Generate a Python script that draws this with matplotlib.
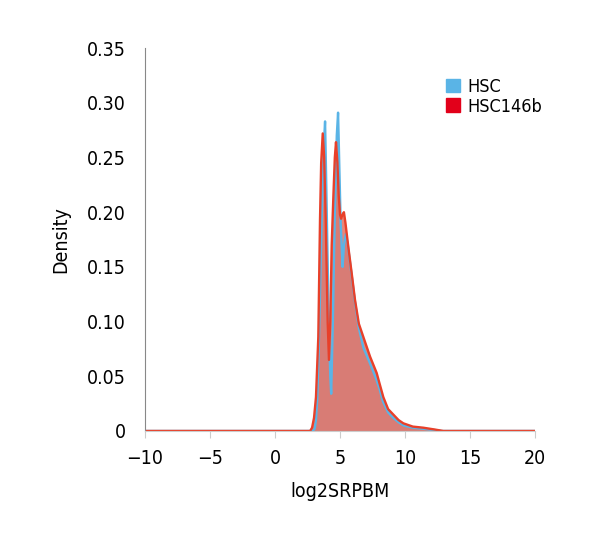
import numpy as np
import matplotlib.pyplot as plt
from matplotlib.patches import Patch

plt.rcParams['font.family'] = ['DejaVu Sans']
plt.rcParams['font.stretch'] = 'condensed'

# density curves
hsc_x = [-10, 2.9, 3.05, 3.15, 3.25, 3.35, 3.45, 3.6, 3.75, 3.85, 3.95, 4.1, 4.25,
         4.32, 4.45, 4.6, 4.75, 4.85, 4.95, 5.05, 5.13, 5.2, 5.3, 5.45, 5.6, 5.9,
         6.15, 6.45, 6.8, 7.3, 7.8, 8.05, 8.3, 8.7, 9.1, 9.5, 9.9, 10.6, 11.4,
         12.2, 12.8, 20]
hsc_y = [0, 0, 0.002, 0.01, 0.03, 0.07, 0.12, 0.2, 0.26, 0.283, 0.22, 0.12, 0.05,
         0.034, 0.1, 0.2, 0.27, 0.291, 0.24, 0.19, 0.168, 0.15, 0.17, 0.18, 0.17, 0.142,
         0.118, 0.094, 0.076, 0.062, 0.047, 0.038, 0.027, 0.017, 0.012, 0.008, 0.005,
         0.003, 0.002, 0.001, 0, 0]

hsc146b_x = [-10, 2.7, 2.85, 3.0, 3.15, 3.33, 3.46, 3.55, 3.67, 3.78, 3.9, 3.97,
             4.05, 4.15, 4.25, 4.36, 4.49, 4.6, 4.69, 4.8, 4.9, 5.0, 5.08, 5.2, 5.3,
             5.42, 5.52, 5.64, 5.9, 6.15, 6.45, 6.85, 7.31, 7.82, 8.05, 8.33, 8.7,
             9.1, 9.5, 9.87, 10.6, 11.4, 12.2, 12.95, 20]
hsc146b_y = [0, 0, 0.003, 0.012, 0.031, 0.086, 0.193, 0.245, 0.272, 0.25, 0.193, 0.15,
             0.1, 0.065, 0.1, 0.17, 0.215, 0.25, 0.264, 0.245, 0.215, 0.198, 0.194, 0.198, 0.2,
             0.19, 0.18, 0.168, 0.144, 0.12, 0.098, 0.084, 0.068, 0.053, 0.043, 0.031, 0.02,
             0.015, 0.01, 0.007, 0.004, 0.003, 0.0015, 0, 0]

series_names = ['HSC', 'HSC146b']
x_ticks = [-10, -5, 0, 5, 10, 15, 20]
y_ticks = [0, 0.05, 0.10, 0.15, 0.20, 0.25, 0.30, 0.35]
y_tick_labels = ['0', '0.05', '0.10', '0.15', '0.20', '0.25', '0.30', '0.35']

blue = '#5ab4e6'
red = '#e8402a'

fig = plt.figure(figsize=(6, 5.4), dpi=100)
ax = fig.add_axes([0.2417, 0.2019, 0.65, 0.709])

ax.fill_between(hsc_x, hsc_y, color=blue, alpha=0.3, linewidth=0)
ax.plot(hsc_x, hsc_y, color=blue, lw=1.7, solid_joinstyle='round')
ax.fill_between(hsc146b_x, hsc146b_y, color='#e03a25', alpha=0.62, linewidth=0)
ax.plot(hsc146b_x, hsc146b_y, color=red, lw=1.7, solid_joinstyle='round')

ax.set_xlim(-10, 20)
ax.set_ylim(0, 0.35)
ax.set_xticks(x_ticks)
ax.set_xticklabels([str(t).replace('-', '\u2212') for t in x_ticks])
ax.set_yticks(y_ticks)
ax.set_yticklabels(y_tick_labels)
ax.tick_params(axis='x', length=5, color='#cccccc', labelsize=14, pad=8)
ax.tick_params(axis='y', length=0, labelsize=14, pad=14)

for s in ['top', 'right']:
    ax.spines[s].set_visible(False)
ax.spines['left'].set_color('#888888')
ax.spines['bottom'].set_color('#cccccc')

ax.set_xlabel('log2SRPBM', fontsize=14, labelpad=10)
ax.set_ylabel('Density', fontsize=14, labelpad=12)

handles = [Patch(color=blue, label=series_names[0]),
           Patch(color='#e2001a', label=series_names[1])]
ax.legend(handles=handles, loc='upper left', bbox_to_anchor=(0.73, 0.965),
          frameon=False, fontsize=13, handlelength=0.8, handleheight=0.8,
          handletextpad=0.4, labelspacing=0.1)

plt.savefig('out.png', dpi=100)
